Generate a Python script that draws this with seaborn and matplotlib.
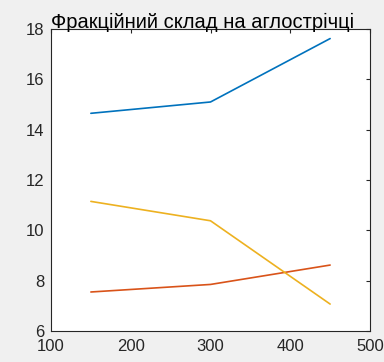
import pandas as pd
import seaborn as sns
import matplotlib.pyplot as plt

# Data
x_vals = [150, 300, 450]
blue_vals = [14.65, 15.1, 17.62]
red_vals = [7.55, 7.85, 8.62]
yellow_vals = [11.15, 10.38, 7.07]
series_names = ["s1", "s2", "s3"]
title_text = "Фракційний склад на аглострічці"

# MATLAB default line colours
palette = ["#0072BD", "#D95319", "#EDB120"]

df = pd.DataFrame({
    "x": x_vals * 3,
    "y": blue_vals + red_vals + yellow_vals,
    "series": [series_names[0]] * 3 + [series_names[1]] * 3 + [series_names[2]] * 3,
})

sns.set_style("white")
plt.rcParams["font.family"] = ["Liberation Sans", "DejaVu Sans"]

fig = plt.figure(figsize=(3.84, 3.62), dpi=100, facecolor="#F0F0F0")
ax = fig.add_axes([51 / 384, 1 - 331 / 362, 319 / 384, 302 / 362])

sns.lineplot(data=df, x="x", y="y", hue="series", palette=palette,
             linewidth=1.2, legend=False, ax=ax)

ax.set_xlim(100, 500)
ax.set_ylim(6, 18)
ax.set_xticks([100, 200, 300, 400, 500])
ax.set_yticks([6, 8, 10, 12, 14, 16, 18])
ax.set_xlabel("")
ax.set_ylabel("")
ax.tick_params(direction="in", length=3, width=0.8, colors="#262626",
               labelsize=12, top=True, right=True)
ax.tick_params(axis="x", pad=6)
ax.tick_params(axis="y", pad=5)
for spine in ax.spines.values():
    spine.set_color("#262626")
    spine.set_linewidth(0.8)
# title sits a little left of the axes centre in the original
ax.set_title(title_text, fontsize=14.5, color="black", pad=1, x=0.475)

fig.savefig("out.png", dpi=100, facecolor=fig.get_facecolor())
